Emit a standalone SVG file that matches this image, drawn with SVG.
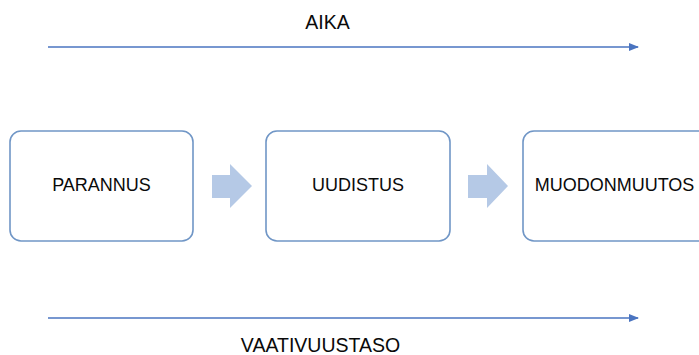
<svg xmlns="http://www.w3.org/2000/svg" width="699" height="355" viewBox="0 0 699 355">
<style>
.box{fill:#fff;stroke:#7096c6;stroke-width:1.6}
.lbl{font-family:"Liberation Sans",Arial,sans-serif;font-size:18px;fill:#0a0a0a}
.ax{font-size:19.5px}
.line{stroke:#4a74c0;stroke-width:1.3;fill:none}
.blk{fill:#b5c9e6}
</style>
<defs>
<marker id="ah" markerWidth="10" markerHeight="8" refX="9" refY="4" orient="auto" markerUnits="userSpaceOnUse">
<path d="M0,0 L10,4 L0,8 Z" fill="#4a74c0"/>
</marker>
</defs>
<rect width="699" height="355" fill="#fff"/>
<g id="connectors">
<line class="line" x1="48" y1="47" x2="638" y2="47" marker-end="url(#ah)"/>
<line class="line" x1="48" y1="318" x2="638" y2="318" marker-end="url(#ah)"/>
<path class="blk" d="M212,175 L230,175 L230,164 L252,186 L230,208 L230,198 L212,198 Z"/>
<path class="blk" d="M468,175 L487,175 L487,164 L508,186 L487,208 L487,198 L468,198 Z"/>
</g>
<g id="aika"><text class="lbl ax" x="327.5" y="28.5" text-anchor="middle">AIKA</text></g>
<g id="vaativuustaso"><text class="lbl ax" x="320.5" y="352" text-anchor="middle">VAATIVUUSTASO</text></g>
<g id="parannus">
<rect class="box" x="10" y="131" width="183" height="110" rx="11"/>
<text class="lbl" x="101.5" y="191" text-anchor="middle">PARANNUS</text>
</g>
<g id="uudistus">
<rect class="box" x="266" y="131" width="184" height="110" rx="11"/>
<text class="lbl" x="358" y="191" text-anchor="middle">UUDISTUS</text>
</g>
<g id="muodonmuutos">
<rect class="box" x="523" y="131" width="190" height="110" rx="11"/>
<text class="lbl" x="614.5" y="191" text-anchor="middle">MUODONMUUTOS</text>
</g>
</svg>
